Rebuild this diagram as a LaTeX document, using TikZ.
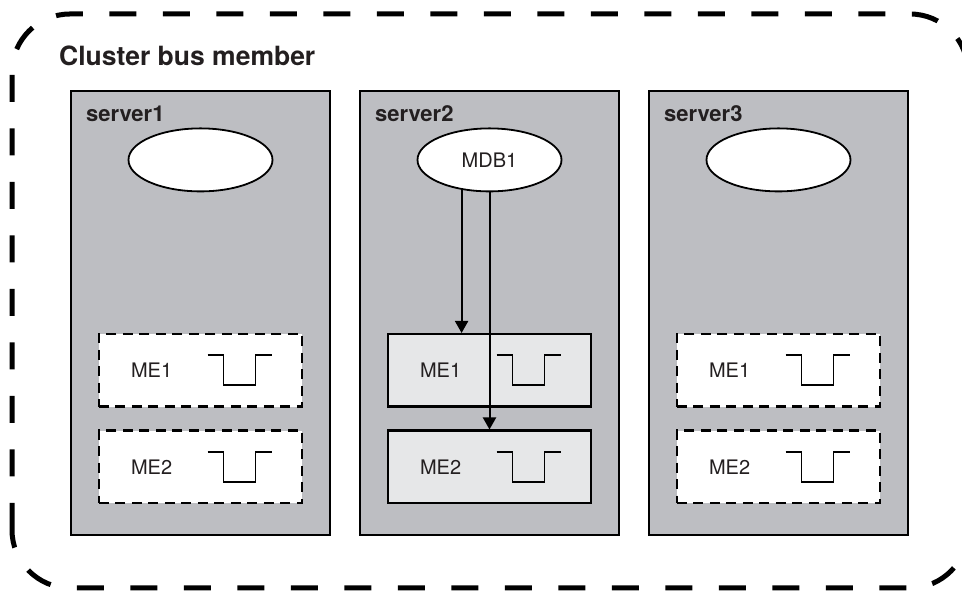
\documentclass[tikz,border=0pt]{standalone}
\usepackage{fontspec}
\setmainfont{TeX Gyre Heros}
\usetikzlibrary{arrows.meta, shapes.geometric, calc}
\definecolor{servergray}{RGB}{189,190,194}
\definecolor{mefill}{RGB}{230,231,232}
\definecolor{inkgray}{RGB}{35,31,32}

\begin{document}
\begin{tikzpicture}[x=1pt,y=1pt,
  server/.style={draw,line width=2.2pt,fill=servergray,inner sep=0pt,
    minimum width=259pt,minimum height=444pt},
  title/.style={anchor=base west,inner sep=0pt,text=inkgray,
    font=\fontsize{22}{26}\selectfont\bfseries},
  mdbnode/.style={ellipse,draw,line width=1.8pt,fill=white,inner sep=0pt,
    minimum width=144pt,minimum height=63pt,text=inkgray,
    font=\fontsize{20}{24}\selectfont},
  meidle/.style={draw,line width=2.3pt,dash pattern=on 10pt off 6.5pt,
    fill=white,inner sep=0pt,minimum width=203.5pt,minimum height=72.5pt},
  meactive/.style={draw,line width=2.3pt,fill=mefill,inner sep=0pt,
    minimum width=203.5pt,minimum height=72.5pt},
  melabel/.style={text=inkgray,inner sep=0pt,font=\fontsize{20}{24}\selectfont},
  queue/.style={line width=1.8pt},
  flow/.style={line width=2pt,-{Triangle[width=13pt,length=12pt]}}]
  \useasboundingbox (0,0) rectangle (962,593);
  % cluster outline
  \draw[line width=5pt,dash pattern=on 27pt off 26.5pt,rounded corners=58pt]
    (12,5) rectangle (968,579);
  \node[anchor=base west,inner sep=0pt,text=inkgray,
    font=\fontsize{26.5}{30}\selectfont\bfseries] (cluster) at (59,527)
    {Cluster bus member};
  % server1
  \node[server] (s1) at (200.5,280) {};
  \node[title] (s1t) at ([xshift=16pt,yshift=-32pt]s1.north west) {server1};
  \node[mdbnode] (s1mdb) at ([yshift=-70pt]s1.north) {};
  \node[meidle] (s1me1) at ([yshift=-280.5pt]s1.north) {};
  \node[meidle] (s1me2) at ([yshift=-377pt]s1.north) {};
  \node[melabel] at ([xshift=54pt]s1me1.west) {ME1};
  \node[melabel] at ([xshift=54pt]s1me2.west) {ME2};
  \draw[queue] ([xshift=7pt,yshift=15pt]s1me1.center) -- ++(16,0) -- ++(0,-30)
    -- ++(32,0) -- ++(0,30) -- ++(16,0);
  \draw[queue] ([xshift=7pt,yshift=15pt]s1me2.center) -- ++(16,0) -- ++(0,-30)
    -- ++(32,0) -- ++(0,30) -- ++(16,0);
  % server2
  \node[server] (s2) at (489.5,280) {};
  \node[title] (s2t) at ([xshift=16pt,yshift=-32pt]s2.north west) {server2};
  \node[mdbnode] (s2mdb) at ([yshift=-70pt]s2.north) {MDB1};
  \node[meactive] (s2me1) at ([yshift=-280.5pt]s2.north) {};
  \node[meactive] (s2me2) at ([yshift=-377pt]s2.north) {};
  \node[melabel] at ([xshift=54pt]s2me1.west) {ME1};
  \node[melabel] at ([xshift=54pt]s2me2.west) {ME2};
  \draw[queue] ([xshift=7pt,yshift=15pt]s2me1.center) -- ++(16,0) -- ++(0,-30)
    -- ++(32,0) -- ++(0,30) -- ++(16,0);
  \draw[queue] ([xshift=7pt,yshift=15pt]s2me2.center) -- ++(16,0) -- ++(0,-30)
    -- ++(32,0) -- ++(0,30) -- ++(16,0);
  \draw[flow] (s2mdb.227) -- (s2mdb.227 |- s2me1.north);
  \draw[flow] (s2mdb.south) -- (s2me2.north);
  % server3
  \node[server] (s3) at (778.5,280) {};
  \node[title] (s3t) at ([xshift=16pt,yshift=-32pt]s3.north west) {server3};
  \node[mdbnode] (s3mdb) at ([yshift=-70pt]s3.north) {};
  \node[meidle] (s3me1) at ([yshift=-280.5pt]s3.north) {};
  \node[meidle] (s3me2) at ([yshift=-377pt]s3.north) {};
  \node[melabel] at ([xshift=54pt]s3me1.west) {ME1};
  \node[melabel] at ([xshift=54pt]s3me2.west) {ME2};
  \draw[queue] ([xshift=7pt,yshift=15pt]s3me1.center) -- ++(16,0) -- ++(0,-30)
    -- ++(32,0) -- ++(0,30) -- ++(16,0);
  \draw[queue] ([xshift=7pt,yshift=15pt]s3me2.center) -- ++(16,0) -- ++(0,-30)
    -- ++(32,0) -- ++(0,30) -- ++(16,0);
\end{tikzpicture}
\end{document}
